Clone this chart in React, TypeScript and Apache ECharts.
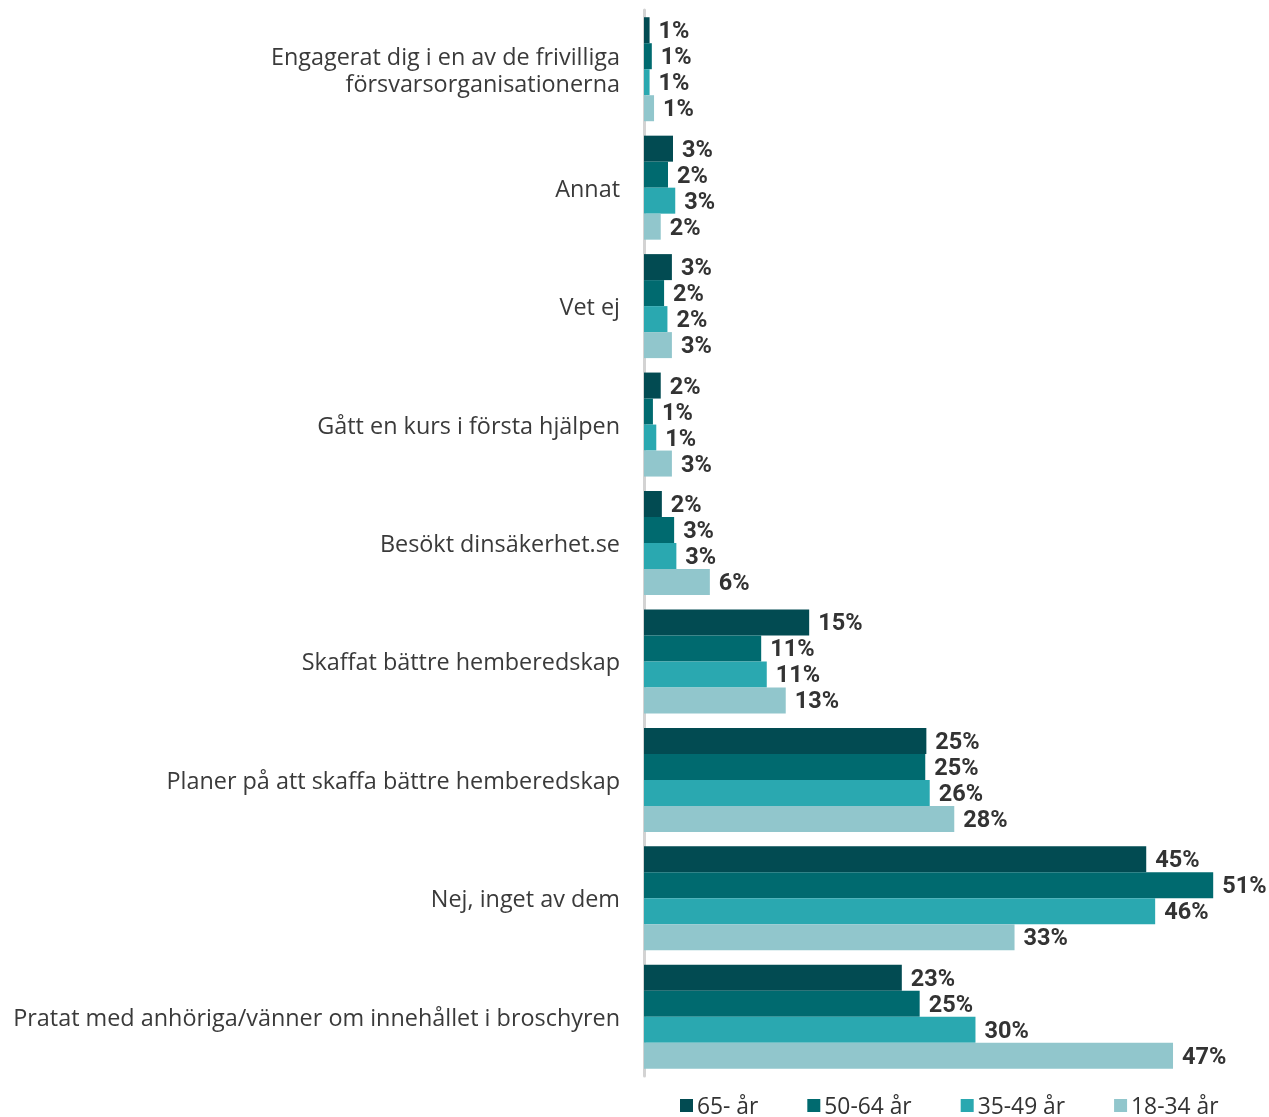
import React, { useEffect, useRef } from "react";
import * as echarts from "echarts";

const categories = [
  "Engagerat dig i en av de frivilliga\nförsvarsorganisationerna",
  "Annat",
  "Vet ej",
  "Gått en kurs i första hjälpen",
  "Besökt dinsäkerhet.se",
  "Skaffat bättre hemberedskap",
  "Planer på att skaffa bättre hemberedskap",
  "Nej, inget av dem",
  "Pratat med anhöriga/vänner om innehållet i broschyren",
];

const seriesNames = ["65- år", "50-64 år", "35-49 år", "18-34 år"];
const age65 = [0.5, 2.6, 2.5, 1.5, 1.6, 14.8, 25.3, 45.0, 23.1];
const age50 = [0.7, 2.15, 1.8, 0.8, 2.7, 10.5, 25.2, 51.0, 24.7];
const age35 = [0.5, 2.8, 2.1, 1.1, 2.9, 11.0, 25.6, 45.8, 29.7];
const age18 = [0.9, 1.5, 2.5, 2.5, 5.9, 12.7, 27.8, 33.2, 47.4];
const colors = ["#024B52", "#006A6F", "#2AA8B0", "#91C6CC"];

export default function App() {
  const ref = useRef<HTMLDivElement>(null);
  useEffect(() => {
    const chart = echarts.init(ref.current!, undefined, { renderer: "svg" });
    const data = [age65, age50, age35, age18];
    chart.setOption({
      animation: false,
      color: colors,
      textStyle: { fontFamily: "Roboto" },
      legend: {
        left: 680,
        top: 1094,
        padding: 0,
        itemWidth: 13,
        itemHeight: 13,
        itemGap: 49,
        icon: "rect",
        textStyle: {
          fontFamily: "Open Sans",
          fontSize: 22.8,
          lineHeight: 23,
          color: "#333",
          padding: [0, 0, 0, -1],
        },
        data: seriesNames,
      },
      grid: { left: 644, top: 10, width: 625, height: 1066, containLabel: false },
      xAxis: {
        type: "value",
        min: 0,
        max: 56,
        show: false,
      },
      yAxis: {
        type: "category",
        inverse: true,
        data: categories,
        offset: 2,
        axisLine: { show: true, lineStyle: { color: "#d3d3d3", width: 3 } },
        axisTick: { show: false },
        axisLabel: {
          margin: 22,
          fontFamily: "Open Sans",
          fontSize: 23.4,
          color: "#3a3a3a",
          lineHeight: 27,
          align: "right",
        },
      },
      series: seriesNames.map((name, i) => ({
        name,
        type: "bar",
        data: data[i],
        barWidth: 26,
        barGap: "0%",
        itemStyle: { color: colors[i] },
        label: {
          show: true,
          position: "right",
          distance: 9,
          fontFamily: "Roboto",
          fontSize: 23.5,
          fontWeight: "bold",
          color: "#333",
          formatter: (p: any) => Math.round(p.value) + "%",
        },
      })),
    });
    return () => chart.dispose();
  }, []);
  return (
    <div
      ref={ref}
      style={{ position: "fixed", left: 0, top: 0, width: 1269, height: 1117 }}
    />
  );
}
